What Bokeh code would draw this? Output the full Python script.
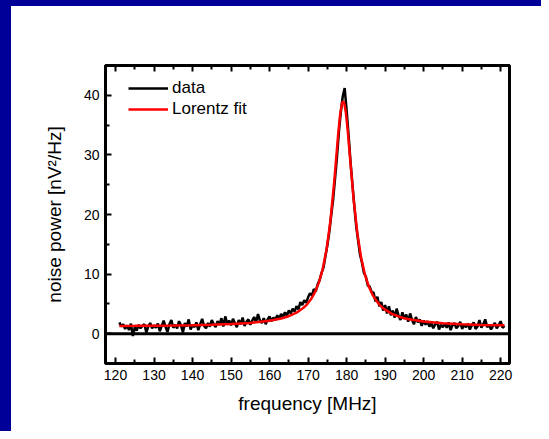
import numpy as np
from bokeh.plotting import figure
from bokeh.models import (Range1d, FixedTicker, LinearAxis, Span, Legend, LegendItem, Div)
from bokeh.layouts import row, column
from bokeh.embed import file_html
from bokeh.resources import INLINE

# ---- data ----
freq = np.linspace(121, 221, 201)  # MHz, 0.5 MHz grid
noise = [
    1.9, 1.2, 1.6, 0.8, 1.4, 0.6, 1.7, -0.4, 1.1, 0.5,
    1.5, 0.9, 1.3, 1.6, 0.2, 1.2, 1.8, 0.9, 1.4, 1.0,
    1.7, 0.4, 1.3, 2.2, 1.1, 0.3, 1.6, 2.3, 1.0, 1.5,
    0.9, 2.1, 1.4, 0.2, 1.8, 1.2, 2.4, 0.7, 1.5, 1.1,
    1.9, 0.6, 1.6, 2.5, 1.3, 0.9, 1.8, 1.2, 2.3, 1.6,
    1.1, 2.1, 1.5, 2.6, 1.2, 2.9, 1.7, 2.2, 1.4, 2.5,
    1.8, 1.1, 2.3, 1.6, 2.7, 1.3, 2.0, 2.4, 1.5, 2.2,
    2.8, 1.9, 3.3, 2.2, 1.8, 2.6, 1.6, 2.4, 2.9, 2.1,
    2.7, 2.3, 3.1, 2.5, 3.3, 2.8, 3.6, 3.0, 3.9, 3.4,
    4.2, 3.7, 4.6, 4.1, 5.3, 4.8, 5.6, 5.2, 6.1, 6.8,
    6.4, 7.5, 7.1, 8.3, 9.0, 10.2, 11.1, 13.0, 14.8, 17.0,
    19.8, 22.5, 26.0, 29.6, 33.8, 37.2, 39.8, 41.2, 37.5, 33.5,
    29.0, 25.2, 21.5, 18.0, 15.6, 13.2, 11.9, 10.2, 9.6, 8.1,
    7.9, 7.0, 6.9, 5.4, 6.2, 4.6, 5.3, 3.9, 4.8, 3.4,
    4.6, 3.1, 3.9, 2.7, 4.2, 3.0, 2.3, 3.6, 2.5, 3.2,
    2.0, 3.4, 2.3, 1.6, 2.8, 1.9, 2.4, 1.3, 2.2, 1.5,
    2.1, 1.2, 1.8, 0.9, 1.6, 2.0, 0.7, 1.5, 1.1, 1.7,
    1.0, 1.9, 0.6, 1.4, 1.8, 0.9, 1.3, 2.0, 0.8, 1.5,
    1.1, 1.7, 0.7, 1.4, 1.9, 0.8, 1.2, 2.3, 1.0, 1.6,
    2.4, 1.1, 1.5, 0.7, 1.3, 1.8, 0.9, 1.4, 2.1, 1.0,
    1.3,
]
fit_x = [121, 125, 130, 135, 140, 145, 150, 155, 160, 163, 165, 167,
         168.8, 169.8, 170.8, 171.8, 172.8, 173.8, 174.8, 175.8, 176.8, 177.8,
         178.3, 178.8, 179.1, 179.4, 179.8, 180.3, 180.8, 181.8, 182.8, 183.8,
         184.8, 185.8, 186.8, 187.8, 188.8, 189.8, 191.8, 193.8, 195.8,
         200, 205, 210, 215, 221]
fit_y = [1.31, 1.32, 1.35, 1.38, 1.43, 1.51, 1.62, 1.81, 2.17, 2.55, 2.93, 3.52,
         4.34, 4.98, 5.83, 6.98, 8.57, 10.84, 14.13, 18.92, 25.58, 33.35,
         36.64, 38.65, 39.0, 38.65, 37.17, 34.08, 30.26, 22.69, 16.79, 12.66,
         9.83, 7.87, 6.47, 5.46, 4.70, 4.13, 3.33, 2.81, 2.46,
         2.03, 1.74, 1.58, 1.48, 1.41]
x_ticks = [120, 130, 140, 150, 160, 170, 180, 190, 200, 210, 220]
x_minor = [125, 135, 145, 155, 165, 175, 185, 195, 205, 215]
y_ticks = [0, 10, 20, 30, 40]
y_minor = [-5, 5, 15, 25, 35]

FONT = "Liberation Sans"
BLUE = "#000099"

p = figure(width=530, height=425, output_backend="svg", toolbar_location=None,
           x_range=Range1d(117.4, 222.3), y_range=Range1d(-5, 45),
           x_axis_location=None, y_axis_location=None,
           min_border_left=94, min_border_right=32, min_border_top=59, min_border_bottom=68)
p.grid.visible = False
p.outline_line_color = "black"
p.outline_line_width = 3
p.background_fill_color = "white"
p.border_fill_color = "white"

def style_axis(ax):
    ax.axis_line_width = 3
    ax.axis_line_color = "black"
    ax.major_tick_in = 6
    ax.major_tick_out = 0
    ax.minor_tick_in = 4
    ax.minor_tick_out = 0
    ax.major_tick_line_width = 2
    ax.minor_tick_line_width = 2
    ax.major_label_text_font = FONT
    ax.major_label_text_font_size = "14px"
    ax.major_label_text_color = "black"
    ax.axis_label_text_font = FONT
    ax.axis_label_text_font_size = "19px"
    ax.axis_label_text_font_style = "normal"
    ax.axis_label_text_color = "black"

xb = LinearAxis(ticker=FixedTicker(ticks=x_ticks, minor_ticks=x_minor), axis_label="frequency [MHz]")
style_axis(xb)
xb.major_label_standoff = 6
xb.axis_label_standoff = 10
p.add_layout(xb, "below")

xt = LinearAxis(ticker=FixedTicker(ticks=x_ticks, minor_ticks=x_minor))
style_axis(xt)
xt.major_label_overrides = {t: "" for t in x_ticks}
xt.major_label_standoff = 0
p.add_layout(xt, "above")

yl = LinearAxis(ticker=FixedTicker(ticks=y_ticks, minor_ticks=y_minor), axis_label="noise power [nV²/Hz]")
style_axis(yl)
yl.major_label_standoff = 6
yl.axis_label_standoff = 16
p.add_layout(yl, "left")

p.add_layout(Span(location=0, dimension="width", line_color="black", line_width=3))

r_data = p.line(freq, noise, line_color="black", line_width=2.5)
r_fit = p.line(fit_x, fit_y, line_color="#ff0000", line_width=2.5)

legend = Legend(items=[LegendItem(label="data", renderers=[r_data]),
                       LegendItem(label="Lorentz fit", renderers=[r_fit])],
                location=(23, 244), padding=0, margin=0, spacing=1,
                glyph_width=40, glyph_height=20, label_height=20, label_standoff=4,
                border_line_color=None, background_fill_alpha=0,
                label_text_font=FONT, label_text_font_size="17px",
                label_text_color="black")
p.add_layout(legend)

top_strip = Div(width=541, height=6, margin=0, styles={"background-color": BLUE})
left_strip = Div(width=11, height=425, margin=0, styles={"background-color": BLUE})
layout = column(top_strip, row(left_strip, p, spacing=0), spacing=0)

open("out.html", "w").write(file_html(layout, INLINE))
